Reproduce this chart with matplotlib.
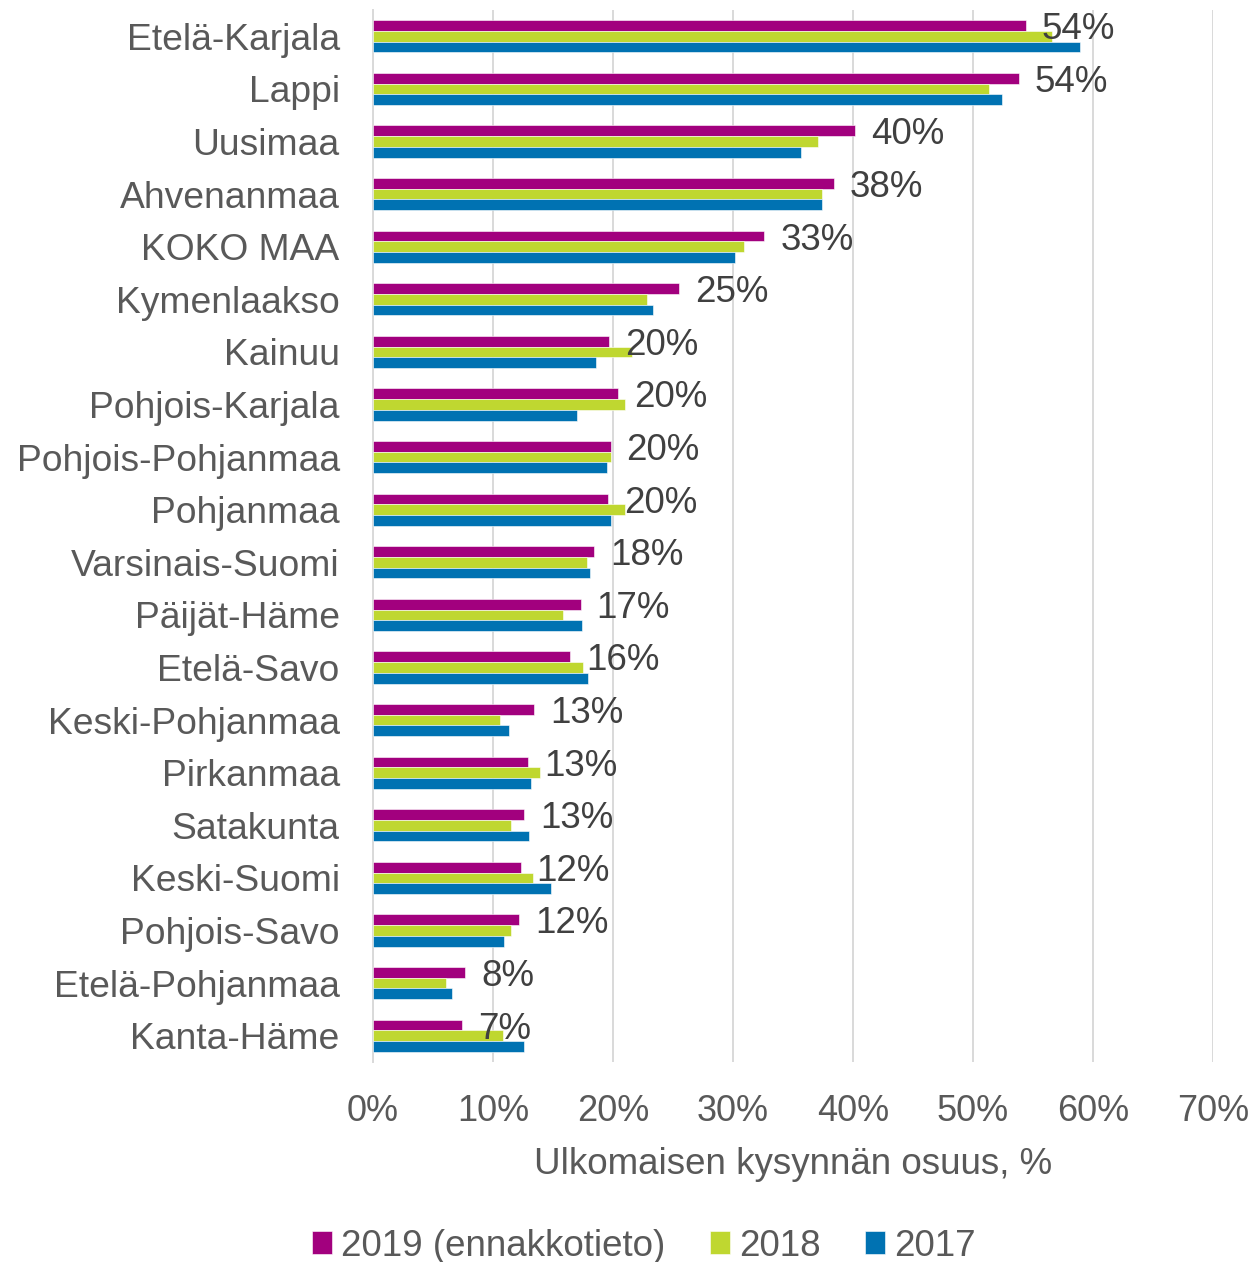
import matplotlib
matplotlib.use("Agg")
import matplotlib.pyplot as plt
import numpy as np

regions = ["Etelä-Karjala", "Lappi", "Uusimaa", "Ahvenanmaa", "KOKO MAA", "Kymenlaakso",
           "Kainuu", "Pohjois-Karjala", "Pohjois-Pohjanmaa", "Pohjanmaa", "Varsinais-Suomi",
           "Päijät-Häme", "Etelä-Savo", "Keski-Pohjanmaa", "Pirkanmaa", "Satakunta",
           "Keski-Suomi", "Pohjois-Savo", "Etelä-Pohjanmaa", "Kanta-Häme"]
v2019 = [54.4, 53.8, 40.2, 38.4, 32.6, 25.5, 19.7, 20.4, 19.8, 19.6, 18.4, 17.3, 16.4,
         13.4, 12.9, 12.6, 12.3, 12.2, 7.7, 7.4]
v2018 = [56.6, 51.3, 37.1, 37.4, 30.9, 22.8, 21.6, 21.0, 19.8, 21.0, 17.8, 15.8, 17.5,
         10.6, 13.9, 11.5, 13.3, 11.5, 6.1, 10.8]
v2017 = [58.9, 52.4, 35.7, 37.4, 30.2, 23.3, 18.6, 17.0, 19.5, 19.8, 18.1, 17.4, 17.9,
         11.3, 13.2, 13.0, 14.8, 10.9, 6.6, 12.6]
labels2019 = ["54%", "54%", "40%", "38%", "33%", "25%", "20%", "20%", "20%", "20%", "18%",
              "17%", "16%", "13%", "13%", "13%", "12%", "12%", "8%", "7%"]
series_names = ["2019 (ennakkotieto)", "2018", "2017"]
xticks = [0, 10, 20, 30, 40, 50, 60, 70]
xtick_labels = ["0%", "10%", "20%", "30%", "40%", "50%", "60%", "70%"]

colors = ["#A2007E", "#BFD730", "#0072B2"]
plt.rcParams["font.family"] = ["Liberation Sans", "DejaVu Sans"]

fig = plt.figure(figsize=(12.54, 12.62), dpi=100)
ax = fig.add_axes([373/1254, 1 - 1062/1262, 840/1254, 1052/1262])

y = np.arange(len(regions))
h = 0.203
for vals, off, c, name in zip([v2019, v2018, v2017], [-h, 0, h], colors, series_names):
    ax.barh(y + off, vals, height=h, color=c, label=name, edgecolor="white",
            linewidth=0.4, zorder=3)

for i, (v, lab) in enumerate(zip(v2019, labels2019)):
    ax.annotate(lab, (v, i - h), xytext=(11.5, -3), textcoords="offset points",
                ha="left", va="center", fontsize=26.5, color="#404040", zorder=5)

ax.set_xlim(0, 70)
ax.set_ylim(len(regions) - 0.5, -0.5)
ax.set_xticks(xticks)
ax.set_xticklabels(xtick_labels)
ax.set_yticks(y)
ax.set_yticklabels(regions)
ax.tick_params(axis="x", length=0, pad=23, labelsize=26, labelcolor="#595959")
ax.tick_params(axis="y", length=0, pad=24, labelsize=26.8, labelcolor="#595959")
ax.grid(axis="x", color="#D9D9D9", linewidth=1.4, zorder=0)
for s in ["top", "right", "bottom"]:
    ax.spines[s].set_visible(False)
ax.spines["left"].set_color("#D9D9D9")
ax.spines["left"].set_linewidth(1.4)
ax.set_xlabel("Ulkomaisen kysynnän osuus, %", fontsize=26.5, color="#595959", labelpad=13)

handles, labs = ax.get_legend_handles_labels()
leg = fig.legend(handles, labs, loc="center", bbox_to_anchor=(644/1254, 1 - 1246/1262),
                 ncol=3, frameon=False, fontsize=26.5, handlelength=0.55, handleheight=0.6,
                 handletextpad=0.25, columnspacing=1.2, labelcolor="#595959")

fig.savefig("out.png", dpi=100)
